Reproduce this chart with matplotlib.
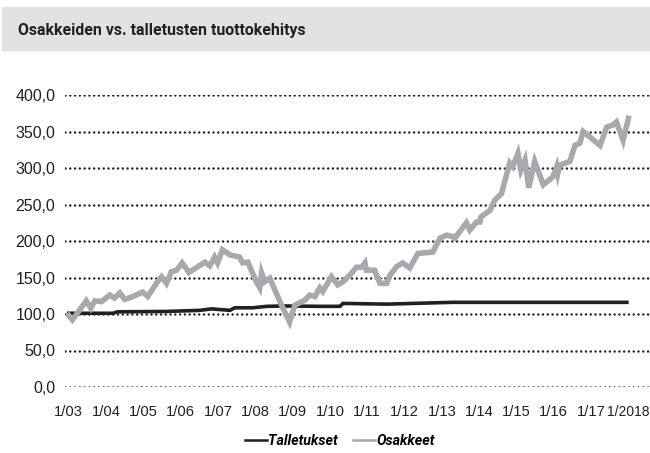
import matplotlib
matplotlib.use("Agg")
import matplotlib.pyplot as plt
from matplotlib.lines import Line2D
from matplotlib.patches import Rectangle
from matplotlib.transforms import ScaledTranslation

# ==========================================
# DATA (index, 1/2003 = 100)
# ==========================================

otsikko = "Osakkeiden vs. talletusten tuottokehitys"
vuosi_labels = ["1/03", "1/04", "1/05", "1/06", "1/07", "1/08", "1/09", "1/10",
                "1/11", "1/12", "1/13", "1/14", "1/15", "1/16", "1/17", "1/2018"]
y_ticks = [0, 50, 100, 150, 200, 250, 300, 350, 400]

# years since 1/2003
talletukset_t = [0.00, 1.18, 1.31, 2.63, 3.51, 3.83, 4.32, 4.45, 4.93, 5.31,
                 5.74, 6.73, 7.27, 7.35, 8.53, 10.29, 14.96]
talletukset = [101.0, 101.0, 103.0, 103.5, 105.0, 107.0, 105.0, 108.5, 108.5, 110.5,
               111.0, 110.5, 110.5, 114.5, 113.5, 116.0, 116.0]

osakkeet_t = [0.00, 0.10, 0.47, 0.59, 0.70, 0.88, 1.10, 1.23, 1.37, 1.50,
              1.72, 1.98, 2.12, 2.35, 2.49, 2.62, 2.75, 2.89, 3.04, 3.22,
              3.65, 3.78, 3.91, 3.99, 4.12, 4.32, 4.58, 4.66, 4.80, 5.03,
              5.12, 5.17, 5.25, 5.39, 5.66, 5.92, 6.06, 6.33, 6.46, 6.60,
              6.73, 6.81, 7.04, 7.21, 7.35, 7.53, 7.71, 7.85, 7.94, 7.98,
              8.20, 8.34, 8.52, 8.61, 8.79, 8.95, 9.14, 9.36, 9.59, 9.76,
              9.95, 10.13, 10.29, 10.35, 10.48, 10.66, 10.75, 10.93, 11.02, 11.05,
              11.29, 11.42, 11.60, 11.82, 11.90, 12.04, 12.12, 12.23, 12.33, 12.49,
              12.72, 12.98, 13.08, 13.11, 13.16, 13.43, 13.57, 13.70, 13.79, 14.24,
              14.42, 14.59, 14.68, 14.86, 15.00]
osakkeet = [98, 92, 118, 108, 118, 117, 126, 122, 129, 120,
            124, 130, 124, 142, 151, 142, 158, 160, 170, 157,
            171, 166, 178, 170, 188, 181, 178, 170, 171, 144,
            136, 156, 144, 149, 117, 89, 112, 119, 126, 124,
            136, 131, 151, 140, 144, 153, 164, 164, 170, 160,
            160, 142, 142, 153, 165, 170, 163, 183, 184, 185,
            204, 208, 206, 204, 213, 225, 215, 226, 226, 233,
            242, 256, 265, 307, 302, 320, 297, 311, 273, 309,
            277, 288, 302, 293, 304, 309, 331, 334, 350, 331,
            356, 359, 363, 338, 368]

# ==========================================
# FIGURE
# ==========================================

plt.rcParams["font.family"] = ["Liberation Sans", "DejaVu Sans"]

fig = plt.figure(figsize=(6.5, 4.53), dpi=100)
fig.patches.append(Rectangle((2 / 650, 1 - 50 / 453), 1, 43 / 453,
                             transform=fig.transFigure, color="#e1e2e4", zorder=0))
fig.text(18 / 650, 1 - 30 / 453, otsikko, family=["Roboto", "DejaVu Sans"],
         fontweight="bold", fontsize=11.4, color="#231f20", va="center")

ax = fig.add_axes([0.1, 1 - 387 / 453, 0.9, 292 / 453])

ax.plot(talletukset_t, talletukset, color="#231f20", lw=2.6,
        solid_joinstyle="miter", label="Talletukset", zorder=3)
ax.plot(osakkeet_t, osakkeet, color="#a7a9ac", lw=4.0,
        solid_joinstyle="miter", label="Osakkeet", zorder=4)

ax.set_ylim(0, 400)
ax.set_xlim(-0.1, 15.58)
ax.set_yticks(y_ticks)
ax.set_yticklabels([f"{v:.1f}".replace(".", ",") for v in y_ticks])
ax.set_xticks(range(len(vuosi_labels)))
ax.set_xticklabels(vuosi_labels)
ax.tick_params(length=0, colors="#231f20")
ax.tick_params(axis="x", pad=13, labelsize=10.6)
ax.tick_params(axis="y", pad=7, labelsize=11.5)

# last label sits at the right edge: right-align it to the figure border
last = ax.get_xticklabels()[-1]
last.set_fontsize(10)
last.set_horizontalalignment("right")
x_px = ax.transData.transform((len(vuosi_labels) - 1, 0))[0]
last.set_transform(last.get_transform()
                   + ScaledTranslation((649 - x_px) / fig.dpi, 0, fig.dpi_scale_trans))

for s in ax.spines.values():
    s.set_visible(False)

ax.yaxis.grid(True, color="#231f20", lw=1.8, linestyle=(0, (0.01, 1.9)))
for gl in ax.get_ygridlines():
    gl.set_dash_capstyle("round")
ax.set_axisbelow(True)

handles = [Line2D([], [], color="#231f20", lw=1.8),
           Line2D([], [], color="#a7a9ac", lw=1.8)]
fig.legend(handles, ["Talletukset", "Osakkeet"], loc="center",
           bbox_to_anchor=(340 / 650, 1 - 441 / 453), ncol=2, frameon=False,
           handlelength=1.5, handletextpad=0.1, columnspacing=1.1,
           prop={"family": ["Roboto", "DejaVu Sans"], "weight": "bold",
                 "style": "italic", "size": 10.3})

fig.savefig("out.png", dpi=100)
